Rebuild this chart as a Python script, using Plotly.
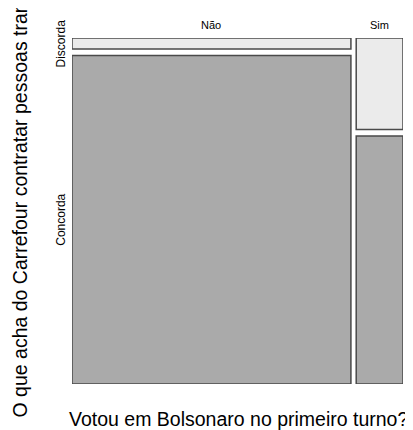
import plotly.graph_objects as go

# Data: counts of the mosaic (rows: opinion, columns: voted Bolsonaro)
columns = ["Não", "Sim"]
rows = ["Discorda", "Concorda"]
counts_discorda = [5, 7]
counts_concorda = [150, 19]

x_title = "Votou em Bolsonaro no primeiro turno?"
y_title = "O que acha do Carrefour contratar pessoas trans?"

# layout constants (page has an 8px body margin)
OFF = 8
W, H = 413 - OFF, 430 - OFF
ml, mr, mt, mb = 72 - OFF, 10, 38 - OFF, 46
gap_x = 0.016
gap_y = 0.019
fills = {"Discorda": "#EBEBEB", "Concorda": "#AAAAAA"}
border = "#4A4A4A"

col_tot = [d + c for d, c in zip(counts_discorda, counts_concorda)]
grand = sum(col_tot)
ngaps_x = len(columns) - 1
widths = [(1 - gap_x * ngaps_x) * t / grand for t in col_tot]
lefts = []
pos = 0
for w in widths:
    lefts.append(pos)
    pos += w + gap_x
centers = [l + w / 2 for l, w in zip(lefts, widths)]

# heights: Concorda bottom, Discorda top
h_conc = [(1 - gap_y) * c / t for c, t in zip(counts_concorda, col_tot)]
h_disc = [(1 - gap_y) * d / t for d, t in zip(counts_discorda, col_tot)]
base_conc = [0 for _ in columns]
base_disc = [hc + gap_y for hc in h_conc]

fig = go.Figure()
fig.add_trace(go.Bar(x=centers, y=h_conc, base=base_conc, width=widths,
                     marker=dict(color=fills["Concorda"], line=dict(color=border, width=1.5)),
                     name="Concorda", hoverinfo="skip"))
fig.add_trace(go.Bar(x=centers, y=h_disc, base=base_disc, width=widths,
                     marker=dict(color=fills["Discorda"], line=dict(color=border, width=1.5)),
                     name="Discorda", hoverinfo="skip"))

font = "Liberation Sans, Arial, sans-serif"
ann = []
for c, name in zip(centers, columns):
    ann.append(dict(x=c, y=1, xref="x", yref="paper", text=name, showarrow=False,
                    yanchor="bottom", yshift=5, font=dict(size=11, color="#000", family=font)))
# row labels next to first column
row_centers = [base_disc[0] + h_disc[0] / 2, base_conc[0] + h_conc[0] / 2]
for yc, name in zip(row_centers, rows):
    ann.append(dict(x=0, y=yc, xref="paper", yref="y", text=name, showarrow=False,
                    textangle=-90, xanchor="right", xshift=-2,
                    font=dict(size=12, color="#000", family=font)))
pw, ph = W - ml - mr, H - mt - mb
ann.append(dict(x=(238 - 72) / pw, y=(384 - 419) / ph, xref="paper", yref="paper",
                text=x_title, showarrow=False, xanchor="center", yanchor="middle",
                font=dict(size=19.5, color="#000", family=font)))
ann.append(dict(x=(19.5 - 72) / pw, y=(384 - 420) / ph, xref="paper", yref="paper",
                text=y_title, showarrow=False, textangle=-90, xanchor="center", yanchor="bottom",
                font=dict(size=19.5, color="#000", family=font)))

fig.update_layout(
    width=W, height=H, margin=dict(l=ml, r=mr, t=mt, b=mb),
    plot_bgcolor="white", paper_bgcolor="white",
    barmode="overlay", showlegend=False, annotations=ann,
    xaxis=dict(range=[0, 1], visible=False, fixedrange=True),
    yaxis=dict(range=[0, 1], visible=False, fixedrange=True),
)
fig.write_html("out.html")
